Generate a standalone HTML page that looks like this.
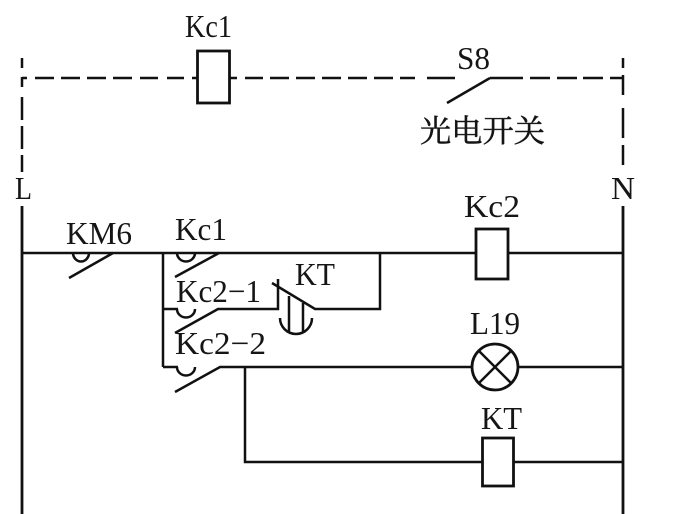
<!DOCTYPE html>
<html>
<head>
<meta charset="utf-8">
<style>
html,body{margin:0;padding:0;background:#fff;}
svg{display:block;}
text{font-family:"Liberation Serif","Noto Serif CJK SC",serif;fill:#151515;font-size:32px;}
</style>
</head>
<body>
<svg width="696" height="514" viewBox="0 0 696 514" xmlns="http://www.w3.org/2000/svg">
<rect width="696" height="514" fill="#fff"/>
<g fill="none" stroke="#111" stroke-width="2.500">
<!-- top dashed -->
<path d="M22 78H27M35 78H54M61 78H80M87 78H106M113 78H132M140 78H158M167 78H184M192 78H197M229 78H237M245 78H263M270 78H289M296 78H315M322 78H341M348 78H367M374 78H393M400 78H415M427 78H455M490 78H523M530 78H550M557 78H577M583 78H603M610 78H623"/>
<path d="M22 58V68M22 77V87M22 97V120M22 126V149M22 155V172"/>
<path d="M623 58V68M623 75V95M623 108V138M623 145V165"/>
<rect x="197.500" y="51" width="32" height="52" stroke-width="2.800"/>
<path d="M447 103L490 78"/>
<!-- rails -->
<path d="M22 206V514M623 206V514" stroke-width="2.800"/>
<!-- rung 1 -->
<path d="M22 253H476M508 253H623"/>
<path d="M73 253A8 8.500 0 0 0 89 253"/>
<path d="M69 278L113 253"/>
<path d="M177 253A9 8.500 0 0 0 195 253"/>
<path d="M175 277L219 253"/>
<rect x="476" y="229" width="32" height="50" stroke-width="2.800"/>
<!-- left bus -->
<path d="M163 253V367"/>
<!-- rung 2 -->
<path d="M163 309H178"/>
<path d="M177 309A9 8.500 0 0 0 195 309"/>
<path d="M175 333L218 309H278V279"/>
<path d="M272 283L315 309H380V253"/>
<path d="M280 318A16 16 0 0 0 312 318"/>
<path d="M289 296V332M303 303V332"/>
<!-- rung 3 -->
<path d="M163 367H178"/>
<path d="M177 367A9 8.500 0 0 0 195 367"/>
<path d="M175 392L220 367H472M518 367H623"/>
<circle cx="495" cy="367" r="23" stroke-width="2.800"/>
<path d="M479 351L511 383M511 351L479 383"/>
<!-- rung 4 -->
<path d="M245 367V462H483M513 462H623"/>
<rect x="482.500" y="438" width="31" height="48" stroke-width="2.800"/>
</g>
<text x="185" y="37" textLength="47" lengthAdjust="spacingAndGlyphs">Kc1</text>
<text x="457" y="69" textLength="33" lengthAdjust="spacingAndGlyphs">S8</text>
<text x="420" y="142" textLength="125" lengthAdjust="spacingAndGlyphs" style="font-size:31px;stroke:#151515;stroke-width:.5px">光电开关</text>
<text x="15" y="199" textLength="17" lengthAdjust="spacingAndGlyphs">L</text>
<text x="611" y="199" textLength="24" lengthAdjust="spacingAndGlyphs">N</text>
<text x="66" y="244" textLength="66" lengthAdjust="spacingAndGlyphs">KM6</text>
<text x="175" y="240" textLength="52" lengthAdjust="spacingAndGlyphs">Kc1</text>
<text x="464" y="217" textLength="56" lengthAdjust="spacingAndGlyphs">Kc2</text>
<text x="176" y="302" textLength="85" lengthAdjust="spacingAndGlyphs">Kc2−1</text>
<text x="295" y="285" textLength="40" lengthAdjust="spacingAndGlyphs">KT</text>
<text x="175" y="354" textLength="91" lengthAdjust="spacingAndGlyphs">Kc2−2</text>
<text x="470" y="334" textLength="50" lengthAdjust="spacingAndGlyphs">L19</text>
<text x="481" y="429" textLength="41" lengthAdjust="spacingAndGlyphs">KT</text>
</svg>
</body>
</html>
